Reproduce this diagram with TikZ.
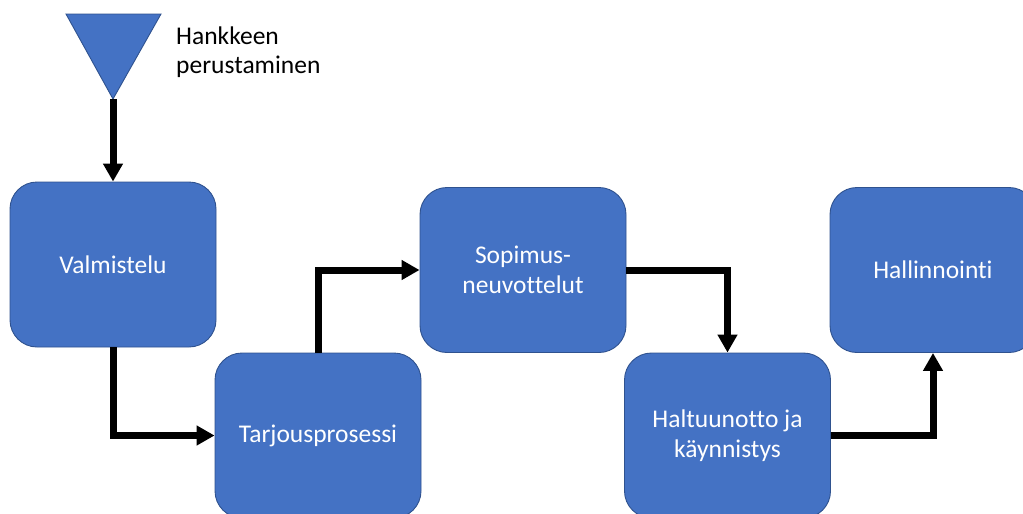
\documentclass[tikz,border=0pt]{standalone}
\usepackage{fontspec}
\setmainfont{Carlito}[Ligatures=NoCommon]
\usetikzlibrary{arrows.meta}
\definecolor{boxfill}{HTML}{4472C4}
\definecolor{boxline}{HTML}{2F528F}
\tikzset{
  stagebox/.style={rectangle, rounded corners=27pt, minimum width=206pt,
    minimum height=165pt, inner sep=0pt, fill=boxfill, draw=boxline,
    line width=0.9pt, text=white, align=center,
    font=\fontsize{25.5}{30.5}\selectfont},
  conn/.style={line width=7pt, draw=black,
    -{Triangle[width=19pt,length=18pt]}},
  label/.style={inner sep=0pt, align=left, text=black,
    font=\fontsize{25.5}{29.5}\selectfont}
}
\begin{document}
\begin{tikzpicture}[x=1pt, y=-1pt]
  \useasboundingbox (0,0) rectangle (1023,514);
  % start marker
  \path[fill=boxfill, draw=boxline, line width=0.9pt]
    (66,14) -- (161,14) -- (113,99) -- cycle;
  \coordinate (apex) at (113,99);
  \node[label, anchor=base west] (start) at (176,73.5) {Hankkeen\\perustaminen};
  % stages
  \node[stagebox] (val)  at (113,264.5)   {Valmistelu};
  \node[stagebox] (tar)  at (318,435.5)   {Tarjousprosessi};
  \node[stagebox] (sop)  at (523,270)     {Sopimus-\\neuvottelut};
  \node[stagebox] (hal)  at (727.5,435.5) {Haltuunotto ja\\käynnistys};
  \node[stagebox] (hall) at (933,270)     {Hallinnointi};
  % flow
  \draw[conn] (apex) -- (val.north);
  \draw[conn] (val.south) |- (tar.west);
  \draw[conn] (tar.north) |- (sop.west);
  \draw[conn] (sop.east) -| (hal.north);
  \draw[conn] (hal.east) -| (hall.south);
\end{tikzpicture}
\end{document}
